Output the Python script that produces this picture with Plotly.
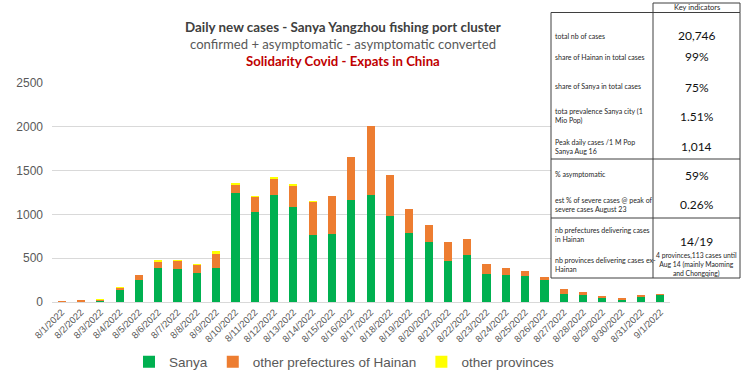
import plotly.graph_objects as go

# ---------------- data ----------------
dates = ["8/1/2022", "8/2/2022", "8/3/2022", "8/4/2022", "8/5/2022", "8/6/2022",
         "8/7/2022", "8/8/2022", "8/9/2022", "8/10/2022", "8/11/2022", "8/12/2022",
         "8/13/2022", "8/14/2022", "8/15/2022", "8/16/2022", "8/17/2022", "8/18/2022",
         "8/19/2022", "8/20/2022", "8/21/2022", "8/22/2022", "8/23/2022", "8/24/2022",
         "8/25/2022", "8/26/2022", "8/27/2022", "8/28/2022", "8/29/2022", "8/30/2022",
         "8/31/2022", "9/1/2022"]
sanya = [5, 10, 15, 137, 251, 384, 380, 331, 391, 1246, 1030, 1220, 1080, 766, 777, 1164,
         1220, 982, 785, 690, 470, 542, 318, 311, 296, 246, 87, 80, 49, 30, 53, 82]
other_hainan = [2, 3, 10, 30, 53, 68, 91, 95, 160, 95, 175, 190, 254, 379, 432, 492,
                785, 466, 272, 189, 212, 174, 114, 79, 56, 42, 61, 34, 15, 8, 23, 2]
other_provinces = [0, 0, 8, 3, 0, 27, 5, 3, 28, 13, 4, 15, 5, 2, 0, 0,
                   0, 0, 0, 0, 0, 0, 0, 0, 0, 0, 0, 0, 0, 0, 0, 0]
series_names = ["Sanya", "other prefectures of Hainan", "other provinces"]
y_ticks = [0, 500, 1000, 1500, 2000, 2500]

title_lines = ["Daily new cases - Sanya Yangzhou fishing port cluster",
               "confirmed + asymptomatic - asymptomatic converted",
               "Solidarity Covid - Expats in China"]

table_header = "Key indicators"
table_labels = ["total nb of cases",
                "share of Hainan in total cases",
                "share of Sanya in total cases",
                "tota prevalence Sanya city (1<br>Mio Pop)",
                "Peak daily cases /1 M Pop<br>Sanya Aug 16",
                "% asymptomatic",
                "est % of severe cases @ peak of<br>severe cases August 23",
                "nb prefectures delivering cases<br>in Hainan",
                "nb provinces delivering cases ex-<br>Hainan"]
table_values = ["20,746", "99%", "75%", "1.51%", "1,014", "59%", "0.26%", "14/19"]
table_note = "4 provinces,113 cases until<br>Aug 14 (mainly Maoming<br>and Chongqing)"

# ---------------- layout helpers ----------------
W, H = 745, 389
PL, PR, PT, PB = 52, 670, 83, 302


def px(x):
    return (x - PL) / (PR - PL)


def py(y):
    return (PB - y) / (PB - PT)


GREEN = "#00B050"
ORANGE = "#ED7D31"
YELLOW = "#FFFF00"
AXIS_TXT = "#595959"
CAL = "Lato, Open Sans, sans-serif"

fig = go.Figure()
for name, vals, col in zip(series_names, [sanya, other_hainan, other_provinces],
                           [GREEN, ORANGE, YELLOW]):
    fig.add_trace(go.Bar(x=dates, y=vals, name=name, marker_color=col,
                         marker_line_width=0, hoverinfo="skip"))

annotations = []
# titles
title_y = [27, 44, 61]
title_fonts = [dict(family=CAL, size=13.4, color="#404040", weight="bold"),
               dict(family=CAL, size=13.1, color="#595959"),
               dict(family=CAL, size=13.2, color="#C00000", weight="bold")]
for t, yy, f in zip(title_lines, title_y, title_fonts):
    annotations.append(dict(text=t, x=px(343), y=py(yy), xref="paper", yref="paper",
                            xanchor="center", yanchor="middle", showarrow=False, font=f))

# table
shapes = []
line = dict(color="#3f3f3f", width=1)
TL, TC, TR = 551, 653, 740
shapes.append(dict(type="rect", xref="paper", yref="paper", x0=px(TL), x1=px(TR),
                   y0=py(278), y1=py(12.5), fillcolor="white", line=line, layer="above"))
shapes.append(dict(type="rect", xref="paper", yref="paper", x0=px(TC), x1=px(TR),
                   y0=py(12.5), y1=py(3), fillcolor="white", line=line, layer="above"))
shapes.append(dict(type="line", xref="paper", yref="paper", x0=px(TC), x1=px(TC),
                   y0=py(278), y1=py(12.5), line=line, layer="above"))
for yy in [159, 218]:
    shapes.append(dict(type="line", xref="paper", yref="paper", x0=px(TL), x1=px(TR),
                       y0=py(yy), y1=py(yy), line=line, layer="above"))

annotations.append(dict(text=table_header, x=px((TC + TR) / 2), y=py(7.8), xref="paper",
                        yref="paper", xanchor="center", yanchor="middle", showarrow=False,
                        font=dict(family=CAL, size=7.5, color="#262626")))
label_y = [36, 57, 86, 116, 146, 174, 204, 234, 264]
value_y = [35, 57, 87, 116, 146, 175, 204, 241]
for t, yy in zip(table_labels, label_y):
    annotations.append(dict(text=t, x=px(TL + 2), y=py(yy), xref="paper", yref="paper",
                            xanchor="left", yanchor="middle", align="left",
                            showarrow=False,
                            font=dict(family=CAL, size=7, color="#262626")))
for t, yy in zip(table_values, value_y):
    annotations.append(dict(text=t, x=px((TC + TR) / 2), y=py(yy), xref="paper",
                            yref="paper", xanchor="center", yanchor="middle",
                            showarrow=False,
                            font=dict(family=CAL, size=12, color="#111111")))
annotations.append(dict(text=table_note, x=px((TC + TR) / 2), y=py(264), xref="paper",
                        yref="paper", xanchor="center", yanchor="middle", align="center",
                        showarrow=False,
                        font=dict(family=CAL, size=6.8, color="#262626")))

fig.update_layout(
    width=W, height=H,
    margin=dict(l=PL, r=W - PR, t=PT, b=H - PB, pad=0),
    barmode="stack", bargap=0.58,
    paper_bgcolor="white", plot_bgcolor="white",
    hovermode=False, dragmode=False,
    showlegend=True,
    legend=dict(orientation="h", x=px(344), xanchor="center", y=py(362),
                yanchor="middle", font=dict(family="Liberation Sans, Arial", size=13.5,
                                            color=AXIS_TXT),
                traceorder="normal", itemwidth=30),
    xaxis=dict(type="category", tickangle=-45, showgrid=False, showline=True,
               linecolor="#D9D9D9", ticks="", zeroline=False,
               tickfont=dict(family="Liberation Sans, Arial", size=9.5, color=AXIS_TXT)),
    yaxis=dict(range=[0, 2500], tickvals=y_ticks, showgrid=True, gridcolor="#D9D9D9",
               zeroline=False, showline=False, ticks="", ticklabelstandoff=8,
               tickfont=dict(family="Liberation Sans, Arial", size=12, color=AXIS_TXT)),
    shapes=shapes, annotations=annotations,
)

fig.write_html("out.html", config={"displayModeBar": False, "staticPlot": False},
               post_script="document.body.style.margin='0';document.body.style.overflow='hidden';")
